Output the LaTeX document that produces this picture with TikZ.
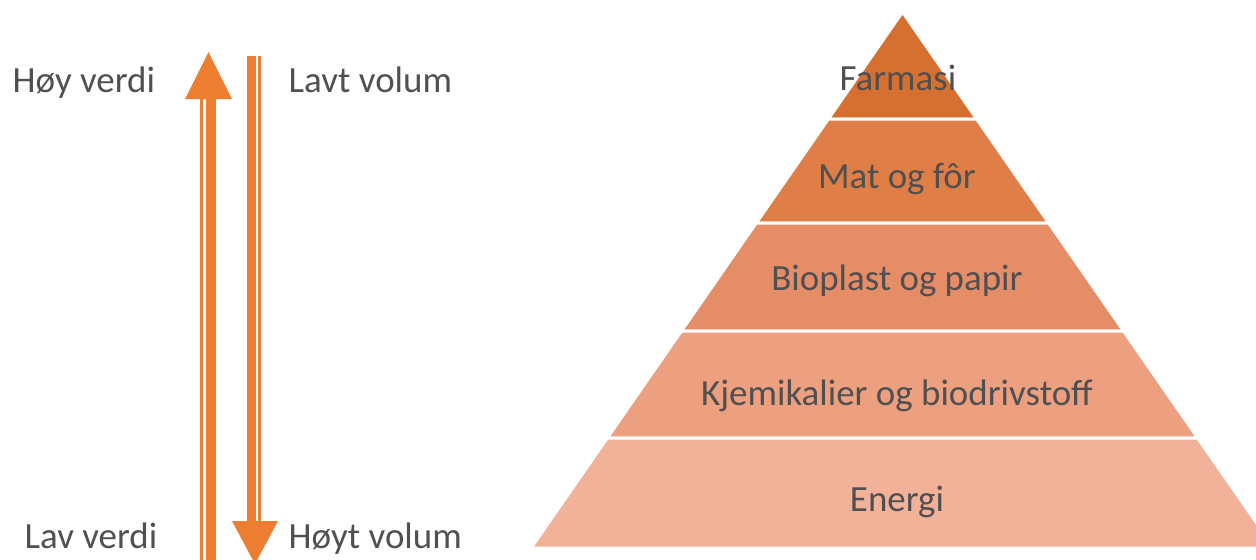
\documentclass[tikz,border=0pt]{standalone}
\usepackage{fontspec}
\setmainfont{Carlito}
\definecolor{arroworange}{HTML}{ED7D31}
\definecolor{labelgray}{HTML}{505050}
\definecolor{bandA}{HTML}{D67030}
\definecolor{bandB}{HTML}{E07E48}
\definecolor{bandC}{HTML}{E58D66}
\definecolor{bandD}{HTML}{ECA07F}
\definecolor{bandE}{HTML}{F2B29A}
\tikzset{
  sidelabel/.style={text=labelgray, font=\fontsize{10.5pt}{12.5pt}\selectfont, inner sep=0pt},
  levellabel/.style={text=labelgray, font=\fontsize{10.5pt}{12.5pt}\selectfont, inner sep=0pt},
  band/.style={draw=white, line width=0.85pt, line join=miter}
}
\begin{document}
\begin{tikzpicture}[x=0.01cm, y=-0.01cm]
        \useasboundingbox (0, 0) rectangle (1256, 560);
        \begin{scope}
        \clip (0, 0) rectangle (1256, 560);

        % Draw the bands of the pyramid
        \foreach \t/\b/\c in {12/119/bandA, 119/223/bandB, 223/331/bandC, 331/438/bandD, 438/548/bandE}
          \draw[band, fill=\c] ({902.5-(\t-12)*0.693}, \t) -- ({902.5+(\t-12)*0.693}, \t)
            -- ({902.5+(\b-12)*0.693}, \b) -- ({902.5-(\b-12)*0.693}, \b) -- cycle;

        % Draw the up arrow (value)
        \fill[arroworange] (200, 99) rectangle (203, 565);
        \fill[arroworange] (206.5, 99) rectangle (216, 565);
        \fill[arroworange] (185, 99) -- (208.5, 52) -- (232, 99) -- cycle;

        % Draw the down arrow (volume)
        \fill[arroworange] (247, 56) rectangle (256, 521);
        \fill[arroworange] (258.5, 56) rectangle (261.5, 521);
        \fill[arroworange] (232, 521) -- (255, 564) -- (278, 521) -- cycle;
        \end{scope}

        % Labels beside the arrows
        \node[sidelabel, anchor=base west] (hoyverdi) at (12, 92) {Høy verdi};
        \node[sidelabel, anchor=base west] (lavtvolum) at (288, 92) {Lavt volum};
        \node[sidelabel, anchor=base west] (lavverdi) at (24, 548) {Lav verdi};
        \node[sidelabel, anchor=base west] (hoytvolum) at (288, 548) {Høyt volum};

        % Labels on the pyramid
        \node[levellabel] (farmasi) at (898, 78) {Farmasi};
        \node[levellabel] (mat) at (897, 179) {Mat og fôr};
        \node[levellabel] (bioplast) at (897, 281) {Bioplast og papir};
        \node[levellabel] (kjemikalier) at (897, 396) {Kjemikalier og biodrivstoff};
        \node[levellabel] (energi) at (897, 502) {Energi};
    \end{tikzpicture}
\end{document}
